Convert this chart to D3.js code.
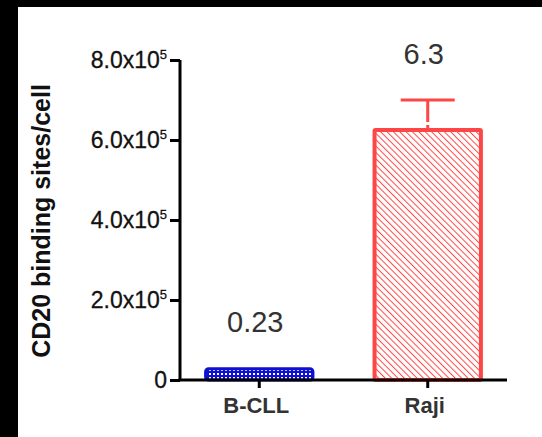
<!DOCTYPE html>
<html><head><meta charset="utf-8">
<script src="https://cdn.jsdelivr.net/npm/d3@7"></script>
<style>html,body{margin:0;padding:0;background:#000;}svg{display:block;}</style>
</head><body>
<script>
const categories = ["B-CLL", "Raji"];
const values = [0.23e5, 6.3e5];
const errors = [0, 0.7e5];
const valueLabels = ["0.23", "6.3"];
const tickValues = [0, 2e5, 4e5, 6e5, 8e5];
const tickMantissa = ["0", "2.0", "4.0", "6.0", "8.0"];
const colors = ["#1010d0", "#ff4646"];

const W = 542, H = 437;
const svg = d3.select("body").append("svg").attr("width", W).attr("height", H);
svg.append("rect").attr("width", W).attr("height", H).attr("fill", "#000");
svg.append("rect").attr("x", 18).attr("y", 7).attr("width", W - 18).attr("height", H - 7).attr("fill", "#fff");

const defs = svg.append("defs");
const hatch = defs.append("pattern").attr("id", "hatch").attr("patternUnits", "userSpaceOnUse")
  .attr("width", 4.5).attr("height", 4.5).attr("patternTransform", "rotate(-45)");
hatch.append("rect").attr("width", 4.5).attr("height", 4.5).attr("fill", "#fff");
hatch.append("line").attr("x1", 0).attr("y1", 0).attr("x2", 0).attr("y2", 4.5)
  .attr("stroke", colors[1]).attr("stroke-width", 2);
const dots = defs.append("pattern").attr("id", "dots").attr("patternUnits", "userSpaceOnUse")
  .attr("width", 4).attr("height", 4);
dots.append("rect").attr("width", 4).attr("height", 4).attr("fill", colors[0]);
dots.append("rect").attr("x", 1).attr("y", 1).attr("width", 2).attr("height", 2).attr("fill", "#fff");

const y = d3.scaleLinear().domain([0, 8e5]).range([380, 60]);
const x = d3.scaleBand().domain(categories).range([180, 507]).paddingInner(0.345).paddingOuter(0.143);

// bars
const fills = ["url(#dots)", "url(#hatch)"];
categories.forEach((c, i) => {
  const sw = i === 0 ? 3 : 4;
  svg.append("rect")
    .attr("x", x(c) + sw / 2).attr("y", y(values[i]) - (i === 0 ? 2 : -sw / 2))
    .attr("width", x.bandwidth() - sw).attr("height", Math.max(0, y(0) - y(values[i]) + (i === 0 ? 2 : -sw / 2)))
    .attr("fill", fills[i]).attr("stroke", colors[i]).attr("stroke-width", sw)
    .attr("rx", i === 0 ? 3 : 1);
  if (errors[i] > 0) {
    const cx = x(c) + x.bandwidth() / 2;
    const top = y(values[i] + errors[i]);
    svg.append("line").attr("x1", cx).attr("x2", cx).attr("y1", top).attr("y2", y(values[i]) - 6)
      .attr("stroke", colors[i]).attr("stroke-width", 3);
    svg.append("line").attr("x1", cx).attr("x2", cx).attr("y1", y(values[i]) - 3).attr("y2", y(values[i]))
      .attr("stroke", colors[i]).attr("stroke-width", 3);
    svg.append("line").attr("x1", cx - 27).attr("x2", cx + 27).attr("y1", top).attr("y2", top)
      .attr("stroke", colors[i]).attr("stroke-width", 3);
  }
  const topY = y(values[i] + errors[i]) - (i === 0 ? 3 : 0);
  svg.append("text").attr("x", x(c) + x.bandwidth() / 2 - 4).attr("y", topY - 36)
    .attr("text-anchor", "middle").attr("font-family", "Liberation Sans, Arial, sans-serif")
    .attr("font-size", 29).attr("fill", "#333").text(valueLabels[i]);
});

// y axis
const yAxis = svg.append("g").attr("transform", "translate(180,0)")
  .call(d3.axisLeft(y).tickValues(tickValues).tickSize(10).tickFormat(""));
yAxis.select(".domain").attr("d", "M0," + y(8e5) + "V" + y(0)).attr("stroke", "#000").attr("stroke-width", 3).attr("fill", "none");
yAxis.selectAll(".tick line").attr("stroke", "#000").attr("stroke-width", 3);
tickValues.forEach((v, i) => {
  const t = svg.append("text").attr("x", 167).attr("y", y(v) + 8)
    .attr("text-anchor", "end").attr("font-family", "Liberation Sans, Arial, sans-serif")
    .attr("font-size", 23).attr("fill", "#111").attr("stroke", "#111").attr("stroke-width", 0.3);
  if (v === 0) { t.text("0"); }
  else {
    t.append("tspan").text(tickMantissa[i] + "x10");
    t.append("tspan").attr("dy", -9).attr("font-size", 13).text("5");
  }
});

// x axis
const xAxis = svg.append("g").attr("transform", "translate(0,380)")
  .call(d3.axisBottom(x).tickSize(8).tickFormat(""));
xAxis.select(".domain").attr("d", "M178.5,0H507").attr("stroke", "#000").attr("stroke-width", 3).attr("fill", "none");
xAxis.selectAll(".tick line").attr("stroke", "#000").attr("stroke-width", 3);
categories.forEach((c) => {
  svg.append("text").attr("x", x(c) + x.bandwidth() / 2 - 3).attr("y", 413)
    .attr("text-anchor", "middle").attr("font-family", "Liberation Sans, Arial, sans-serif")
    .attr("font-size", 22).attr("font-weight", "bold").attr("fill", "#333").text(c);
});

// y title
svg.append("text").attr("transform", "translate(50,221) rotate(-90)")
  .attr("text-anchor", "middle").attr("font-family", "Liberation Sans, Arial, sans-serif")
  .attr("font-size", 25).attr("font-weight", "bold").attr("fill", "#111")
  .text("CD20 binding sites/cell");
</script>
</body></html>
